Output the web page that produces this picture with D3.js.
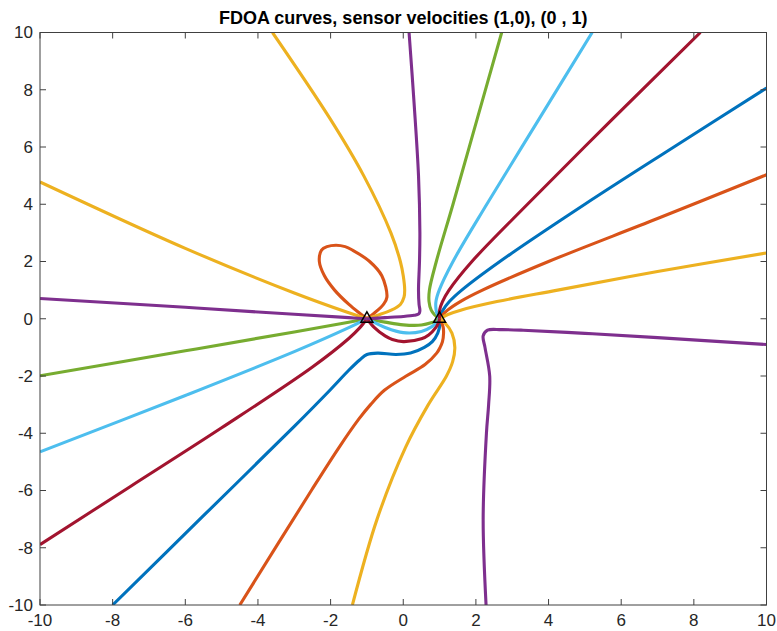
<!DOCTYPE html>
<html>
<head>
<meta charset="utf-8">
<script src="https://cdn.jsdelivr.net/npm/d3@7"></script>
<style>
  body { margin: 0; background: #fff; }
  svg { display: block; font-family: "Liberation Sans", Arial, Helvetica, sans-serif; }
</style>
</head>
<body>
<div id="chart"></div>
<script>
const title = "FDOA curves, sensor velocities (1,0), (0 , 1)"
const xTicks = [-10, -8, -6, -4, -2, 0, 2, 4, 6, 8, 10]
const yTicks = [-10, -8, -6, -4, -2, 0, 2, 4, 6, 8, 10]
const sensors = [[-1, 0], [1, 0]]

// level -0.154
const blueUpper = [[10, 8.06], [7.45, 6], [5, 4], [2.66, 2], [1.61, 1], [1.27, 0.6], [1.093, 0.3], [1.02, 0.1], [1, 0]]
const blueLower = [[1, 0], [1.01, -0.2], [0.95, -0.5], [0.8, -0.8], [0.58, -1], [0.2, -1.2], [-0.2, -1.25], [-0.7, -1.2], [-1, -1.25], [-1.2, -1.44], [-1.5, -1.8], [-2, -2.47], [-3, -3.76], [-5.5, -6.88], [-8, -10]]
// level -0.462
const orangeUpper = [[10, 5.03], [7, 3.5], [4, 2], [2.18, 1], [1.57, 0.6], [1.22, 0.3], [1.06, 0.1], [1, 0]]
const orangeLower = [[1, 0], [1.046, -0.1], [1.1, -0.3], [1.11, -0.5], [1.08, -0.8], [1.015, -1], [0.92, -1.2], [0.6, -1.6], [0.08, -2], [-0.52, -2.5], [-0.9, -3], [-1.22, -3.5], [-1.77, -4.5], [-2.53, -6], [-4.5, -10]]
// level -0.769
const yellowUpper = [[10, 2.3], [7, 1.65], [4.25, 1], [2.58, 0.6], [1.58, 0.3], [1.23, 0.15], [1, 0]]
const yellowLower = [[1, 0], [1.15, -0.15], [1.34, -0.5], [1.42, -1], [1.36, -1.5], [1.19, -2], [0.69, -3], [0.06, -4.5], [-0.72, -7], [-1.4, -10]]
// level -1.077
const purpleLow = [[10, -0.9], [7, -0.66], [5, -0.51], [3.3, -0.4], [2.7, -0.38], [2.32, -0.4], [2.2, -0.6], [2.25, -1], [2.38, -2], [2.35, -3], [2.29, -4], [2.2, -7], [2.28, -10]]
// level 0.769
const greenUpper = [[2.71, 10], [2.04, 7], [1.37, 4], [0.91, 2], [0.72, 1], [0.71, 0.6], [0.77, 0.3], [0.855, 0.15], [1, 0]]
const greenMid = [[1, 0], [0.9, -0.08], [0.8, -0.129], [0.5, -0.22], [0, -0.214], [-0.5, -0.117], [-0.8, -0.05], [-1, 0]]
const greenLeft = [[-1, 0], [-1.5, -0.119], [-3, -0.46], [-6, -1.12], [-10, -1.99]]
// level 0.462
const cyanUpper = [[5.2, 10], [3.75, 7], [2.3, 4], [1.37, 2], [0.99, 1], [0.9, 0.6], [0.905, 0.3], [0.94, 0.15], [1, 0]]
const cyanMid = [[1, 0], [0.95, -0.1], [0.8, -0.265], [0.5, -0.445], [0, -0.486], [-0.5, -0.303], [-0.8, -0.127], [-1, 0]]
const cyanLeft = [[-1, 0], [-1.2, -0.127], [-1.5, -0.313], [-3, -1.15], [-6, -2.68], [-10, -4.65]]
// level 0.154
const maroonUpper = [[8.18, 10], [5.78, 7], [3.42, 4], [1.89, 2], [1.26, 1], [1.08, 0.6], [1, 0.3], [1, 0]]
const maroonMid = [[1, 0], [0.965, -0.15], [0.9, -0.3], [0.7, -0.565], [0.5, -0.7], [0, -0.8], [-0.3, -0.725], [-0.5, -0.6], [-0.8, -0.3], [-1, 0]]
const maroonLeft = [[-1, 0], [-1.2, -0.32], [-1.5, -0.69], [-2.5, -1.685], [-5, -3.81], [-7.5, -5.85], [-10, -7.89]]
// level 1.692
const orangeLoop = [[-1, 0], [-1.2, 0.192], [-1.495, 0.5], [-1.89, 1], [-2.17, 1.5], [-2.31, 2], [-2.25, 2.4], [-2.1, 2.52], [-1.85, 2.57], [-1.6, 2.52], [-1.4, 2.4], [-0.925, 2], [-0.59, 1.5], [-0.45, 0.75], [-0.545, 0.5], [-0.8, 0.192], [-1, 0]]
// level 1.385
const yellowHighRight = [[-1, 0], [-0.7, 0.125], [-0.33, 0.3], [-0.08, 0.5], [0.02, 0.75], [0.04, 1], [0, 1.5], [-0.08, 2], [-0.34, 3], [-1.09, 5], [-2.02, 7], [-3.6, 10]]
const yellowHighLeft = [[-1, 0], [-1.5, 0.208], [-3, 0.9], [-6, 2.46], [-10, 4.78]]
// level 1.077
const purpleHighRight = [[-1, 0], [-0.5, 0.039], [0, 0.08], [0.3, 0.12], [0.4, 0.15], [0.445, 0.2], [0.458, 0.3], [0.435, 0.5], [0.42, 1], [0.447, 2], [0.458, 3], [0.42, 5], [0.3, 7.5], [0.16, 10]]
const purpleHighLeft = [[-1, 0], [-1.5, 0.04], [-3, 0.156], [-6, 0.4], [-10, 0.71]]

const curves = [
  { color: "#0072BD", branches: [blueUpper, blueLower] },
  { color: "#D95319", branches: [orangeUpper, orangeLower] },
  { color: "#EDB120", branches: [yellowUpper, yellowLower] },
  { color: "#7E2F8E", branches: [purpleLow] },
  { color: "#77AC30", branches: [greenUpper, greenMid, greenLeft] },
  { color: "#4DBEEE", branches: [cyanUpper, cyanMid, cyanLeft] },
  { color: "#A2142F", branches: [maroonUpper, maroonMid, maroonLeft] },
  { color: "#D95319", branches: [orangeLoop] },
  { color: "#EDB120", branches: [yellowHighRight, yellowHighLeft] },
  { color: "#7E2F8E", branches: [purpleHighRight, purpleHighLeft] }
]

const width = 777
const height = 631
const margin = { left: 40, right: 10.5, top: 32.5, bottom: 26 }

const svg = d3.select("#chart")
    .append("svg")
    .attr("width", width)
    .attr("height", height)

const x = d3.scaleLinear().domain([-10, 10]).range([margin.left, width - margin.right])
const y = d3.scaleLinear().domain([-10, 10]).range([height - margin.bottom, margin.top])

svg.append("defs")
    .append("clipPath")
    .attr("id", "plot-clip")
    .append("rect")
    .attr("x", x(-10))
    .attr("y", y(10))
    .attr("width", x(10) - x(-10))
    .attr("height", y(-10) - y(10))

const line = d3.line()
    .x(d => x(d[0]))
    .y(d => y(d[1]))
    .curve(d3.curveCatmullRom.alpha(0.5))

const curveLayer = svg.append("g").attr("clip-path", "url(#plot-clip)")

curves.forEach(c => {
  curveLayer.selectAll(null)
      .data(c.branches)
      .enter()
      .append("path")
      .attr("d", line)
      .attr("fill", "none")
      .attr("stroke", c.color)
      .attr("stroke-width", 3.1)
      .attr("stroke-linejoin", "round")
})

curveLayer.selectAll("path.sensor")
    .data(sensors)
    .enter()
    .append("path")
    .attr("class", "sensor")
    .attr("d", d3.symbol(d3.symbolTriangle, 62))
    .attr("transform", d => `translate(${x(d[0])},${y(d[1])})`)
    .attr("fill", "none")
    .attr("stroke", "#000")
    .attr("stroke-width", 1.5)

// axes box with inward ticks on all four sides
const axisColor = "#404040"
const tickLen = 6

const frame = svg.append("g")

frame.append("rect")
    .attr("x", x(-10))
    .attr("y", y(10))
    .attr("width", x(10) - x(-10))
    .attr("height", y(-10) - y(10))
    .attr("fill", "none")
    .attr("stroke", axisColor)
    .attr("stroke-width", 1)

frame.selectAll("line.xt")
    .data(xTicks.flatMap(t => [[t, y(-10), -tickLen], [t, y(10), tickLen]]))
    .enter()
    .append("line")
    .attr("x1", d => x(d[0]))
    .attr("x2", d => x(d[0]))
    .attr("y1", d => d[1])
    .attr("y2", d => d[1] + d[2])
    .attr("stroke", axisColor)

frame.selectAll("line.yt")
    .data(yTicks.flatMap(t => [[t, x(-10), tickLen], [t, x(10), -tickLen]]))
    .enter()
    .append("line")
    .attr("y1", d => y(d[0]))
    .attr("y2", d => y(d[0]))
    .attr("x1", d => d[1])
    .attr("x2", d => d[1] + d[2])
    .attr("stroke", axisColor)

frame.selectAll("text.xl")
    .data(xTicks)
    .enter()
    .append("text")
    .attr("x", d => x(d))
    .attr("y", y(-10) + 21)
    .attr("text-anchor", "middle")
    .attr("font-size", 17)
    .attr("fill", "#262626")
    .text(d => d)

frame.selectAll("text.yl")
    .data(yTicks)
    .enter()
    .append("text")
    .attr("x", x(-10) - 7)
    .attr("y", d => y(d))
    .attr("dy", "0.35em")
    .attr("text-anchor", "end")
    .attr("font-size", 17)
    .attr("fill", "#262626")
    .text(d => d)

svg.append("text")
    .attr("x", (x(-10) + x(10)) / 2)
    .attr("y", 24)
    .attr("text-anchor", "middle")
    .attr("font-size", 18)
    .attr("font-weight", "bold")
    .attr("fill", "#000")
    .text(title)
</script>
</body>
</html>
